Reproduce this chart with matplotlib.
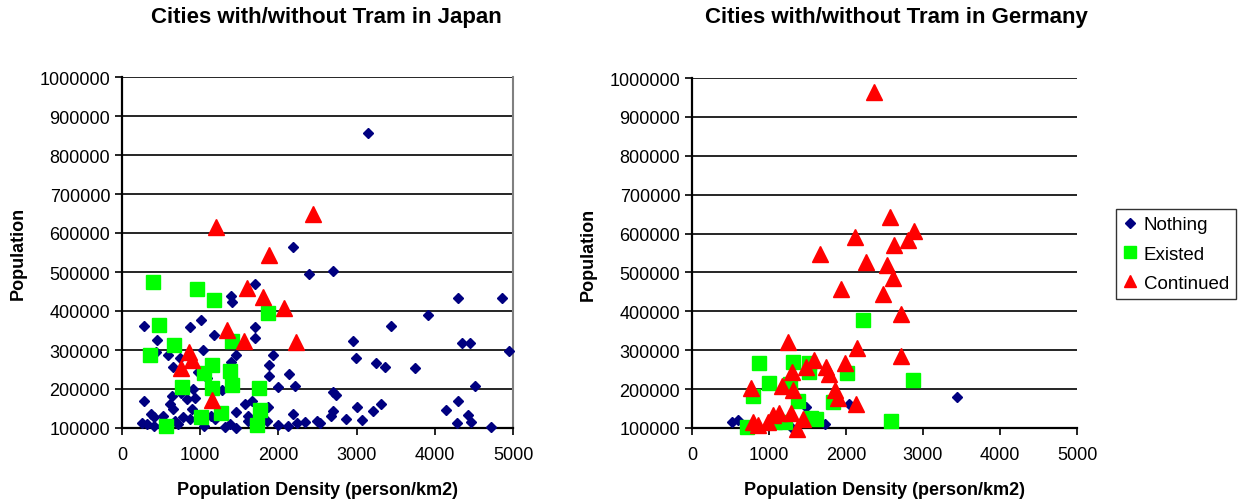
import matplotlib.pyplot as plt

plt.rcParams['font.family'] = ['Liberation Sans', 'DejaVu Sans']

# Japan: population density (person/km2) and population
jp_nothing_x = [2183, 2395, 1700, 1394, 1411, 1010, 285, 874, 1700, 1180, 443, 1700,
                1036, 430, 584, 1454, 746, 1935, 656, 1394, 1880, 976, 1880, 2140,
                1083, 2216, 1991, 1283, 904, 754, 635, 285, 934, 827, 614, 656, 891,
                1658, 1573, 1863, 1454, 2183, 1615, 371, 528, 413, 1138, 784, 870,
                678, 252, 316, 413, 720, 1052, 1317, 1381, 1454, 1850, 1999, 2119,
                2234, 2340, 2490, 1615, 1189, 507,
                2702, 4300, 4855, 3917, 3436, 2950, 4352, 4450, 2992, 4945, 3244,
                3367, 3747, 4514, 2702, 2737, 4300, 3312, 3009, 3214, 4139, 2702,
                2669, 2861, 3065, 4429, 4459, 4280, 4715, 2532, 3150]
jp_nothing_y = [563000, 495000, 469000, 438000, 424000, 378000, 361000, 358000, 358000,
                339000, 326000, 330000, 301000, 294000, 287000, 287000, 279000, 287000,
                256000, 270000, 262000, 244000, 233000, 238000, 227000, 208000, 204000,
                198000, 200000, 191000, 181000, 170000, 176000, 174000, 161000, 149000,
                150000, 170000, 161000, 153000, 142000, 136000, 132000, 136000, 132000,
                127000, 132000, 127000, 123000, 119000, 113000, 110000, 106000, 110000,
                104000, 102000, 110000, 100000, 119000, 108000, 104000, 113000, 115000,
                119000, 119000, 123000, 106000,
                502000, 433000, 433000, 390000, 361000, 322000, 318000, 318000, 279000,
                297000, 267000, 257000, 254000, 208000, 193000, 185000, 170000, 161000,
                153000, 143000, 145000, 143000, 131000, 123000, 120000, 133000, 116000,
                113000, 102000, 113000, 856000]

jp_existed_x = [400, 955, 1176, 1871, 473, 1411, 669, 362, 1155, 1381, 1044, 1411, 763,
                1155, 1752, 1765, 1262, 1010, 1730, 563]
jp_existed_y = [475000, 456000, 428000, 395000, 364000, 324000, 313000, 288000, 262000,
                247000, 241000, 211000, 206000, 202000, 202000, 147000, 138000, 129000,
                108000, 106000]

jp_continued_x = [1198, 2438, 1880, 1594, 1807, 2075, 1343, 1560, 2225, 857, 899, 750, 1147]
jp_continued_y = [615000, 649000, 544000, 458000, 435000, 407000, 352000, 324000, 320000,
                  294000, 275000, 253000, 173000]

# Germany
de_nothing_x = [515, 602, 1481, 2043, 1727, 1295, 3442]
de_nothing_y = [115000, 120000, 153000, 162000, 110000, 100000, 180000]

de_existed_x = [2216, 870, 1308, 1524, 1524, 2017, 2874, 1000, 1273, 796, 1381, 1835,
                1610, 1540, 2580, 1208, 1078, 718]
de_existed_y = [378000, 266000, 270000, 267000, 245000, 241000, 224000, 216000, 213000,
                183000, 169000, 166000, 123000, 125000, 119000, 116000, 115000, 102000]

de_continued_x = [2368, 2571, 2883, 2113, 2809, 2623, 1662, 2260, 2528, 2606, 1935, 2476,
                  2714, 1242, 2139, 2714, 1584, 1481, 1740, 1987, 1784, 1294, 1165,
                  1316, 1857, 1900, 2130, 766, 1048, 1134, 1286, 1446, 788, 853, 983,
                  1359]
de_continued_y = [963000, 642000, 607000, 592000, 584000, 570000, 547000, 526000, 519000,
                  485000, 457000, 444000, 393000, 320000, 305000, 286000, 276000, 256000,
                  258000, 266000, 239000, 243000, 209000, 198000, 198000, 176000, 162000,
                  202000, 133000, 138000, 139000, 123000, 116000, 108000, 115000, 98000]

y_ticks = [100000, 200000, 300000, 400000, 500000, 600000, 700000, 800000, 900000, 1000000]
x_ticks = [0, 1000, 2000, 3000, 4000, 5000]

fig = plt.figure(figsize=(12.39, 5.02), dpi=100)
ax_jp = fig.add_axes([122 / 1239, 73 / 502, 391 / 1239, 351 / 502])
ax_de = fig.add_axes([692 / 1239, 73 / 502, 385 / 1239, 350 / 502])


def draw_panel(ax, nx, ny, ex, ey, cx, cy, right_border):
    ax.plot(nx, ny, 'D', color='#000080', ms=5.5, mec='#000080', label='Nothing',
            clip_on=False, zorder=3)
    ax.plot(ex, ey, 's', color='#00FF00', ms=10, mec='#00FF00', label='Existed',
            clip_on=False, zorder=4)
    ax.plot(cx, cy, '^', color='#FF0000', ms=11, mec='#FF0000', label='Continued',
            clip_on=False, zorder=5)
    ax.set_xlim(0, 5000)
    ax.set_ylim(100000, 1000000)
    ax.set_xticks(x_ticks)
    ax.set_yticks(y_ticks)
    ax.set_xticklabels([str(v) for v in x_ticks])
    ax.set_yticklabels([str(v) for v in y_ticks])
    ax.yaxis.grid(True, color='black', linewidth=1.2)
    ax.set_axisbelow(True)
    ax.tick_params(labelsize=13, length=5, width=1.2, color='black')
    ax.tick_params(axis='x', pad=8)
    ax.spines['left'].set_linewidth(1.6)
    ax.spines['bottom'].set_linewidth(1.6)
    ax.spines['top'].set_visible(False)
    if right_border:
        ax.spines['right'].set_color('#808080')
        ax.spines['right'].set_linewidth(1.5)
    else:
        ax.spines['right'].set_visible(False)
    ax.set_xlabel('Population Density (person/km2)', fontsize=13, fontweight='bold',
                  labelpad=13)
    ax.set_ylabel('Population', fontsize=13, fontweight='bold', labelpad=9)


draw_panel(ax_jp, jp_nothing_x, jp_nothing_y, jp_existed_x, jp_existed_y,
           jp_continued_x, jp_continued_y, True)
draw_panel(ax_de, de_nothing_x, de_nothing_y, de_existed_x, de_existed_y,
           de_continued_x, de_continued_y, False)

fig.text(326 / 1239, 1 - 18 / 502, 'Cities with/without Tram in Japan', ha='center',
         va='center', fontsize=16, fontweight='bold')
fig.text(896 / 1239, 1 - 18 / 502, 'Cities with/without Tram in Germany', ha='center',
         va='center', fontsize=16, fontweight='bold')

handles, labels = ax_de.get_legend_handles_labels()
leg = fig.legend(handles, labels, loc='center', bbox_to_anchor=(1176 / 1239, 1 - 255 / 502),
                 fontsize=13.5, frameon=True, fancybox=False, edgecolor='black',
                 handlelength=0.7, handletextpad=0.4, borderpad=0.4, labelspacing=0.65,
                 markerscale=0.85, borderaxespad=0)
leg.get_frame().set_linewidth(1.0)

fig.savefig('out.png', dpi=100)
